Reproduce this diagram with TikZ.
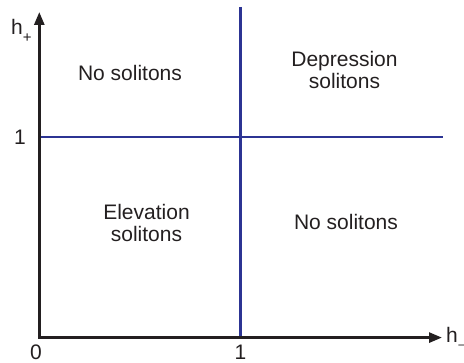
\documentclass[tikz,border=0pt]{standalone}
\usepackage{fontspec}
\setmainfont{Liberation Sans}
\usetikzlibrary{arrows.meta}
\definecolor{ink}{HTML}{231F20}
\definecolor{lineblue}{RGB}{44,52,147}
\begin{document}
\begin{tikzpicture}[x=1pt,y=-1pt,
  lbl/.style={text=ink,inner sep=0pt,font=\fontsize{21}{22}\selectfont},
  region/.style={lbl,align=center},
  axis/.style={draw=ink,line width=2.7pt,-{Triangle[length=13pt,width=10pt]}},
  divider/.style={draw=lineblue,line width=2.3pt}]
\useasboundingbox (0,0) rectangle (464,363);
\coordinate (O) at (39.3,337.6);
\coordinate (Ytip) at (39.3,12);
\coordinate (Xtip) at (442,337.6);
\coordinate (Vtop) at (240.5,7);
\coordinate (Vbot) at (240.5,337.6);
\coordinate (Hleft) at (39.3,136.7);
\coordinate (Hright) at (443,136.7);
\draw[divider] (Vtop) -- (Vbot);
\draw[divider] (Hleft) -- (Hright);
\draw[axis,line cap=rect] (O) -- (Ytip);
\draw[axis] (O) -- (Xtip);
\node[lbl,anchor=base] (ns1) at (130,81) {No solitons};
\node[region,anchor=base] (dep) at (344.5,89) {Depression\\solitons};
\node[region,anchor=base] (elev) at (146.5,242) {Elevation\\solitons};
\node[lbl,anchor=base] (ns2) at (346,230) {No solitons};
\node[lbl,anchor=base west] (hp) at (11,35) {h\raisebox{-0.35em}{\fontsize{15}{15}\selectfont +}};
\node[lbl,anchor=base west] (hm) at (446,343) {h\raisebox{-0.3em}{\fontsize{12}{12}\selectfont −}};
\node[lbl] (one) at (20,137) {1};
\node[lbl] (zero) at (36,352.5) {0};
\node[lbl] (oneb) at (240.5,352.5) {1};
\end{tikzpicture}
\end{document}
